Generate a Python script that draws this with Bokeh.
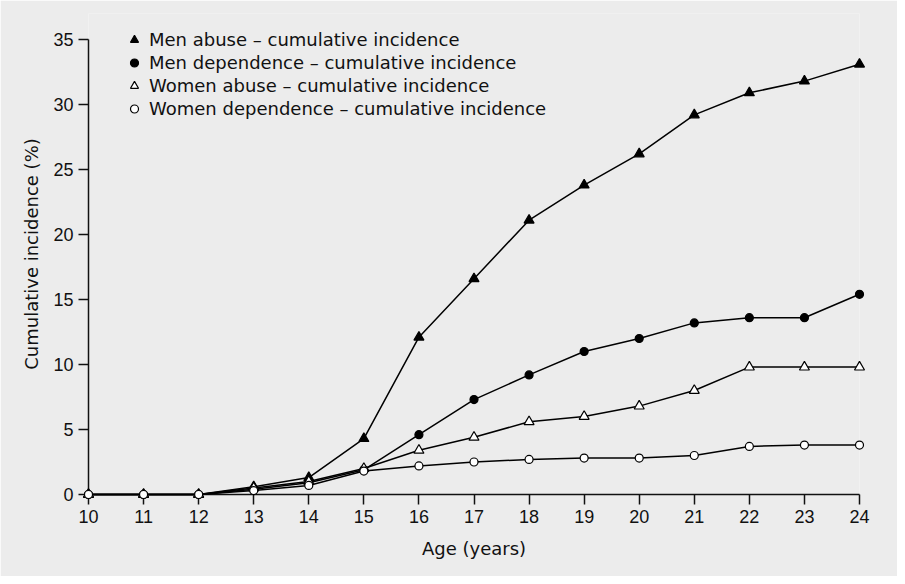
from bokeh.plotting import figure
from bokeh.models import Range1d, FixedTicker, Legend, LegendItem
from bokeh.embed import file_html
from bokeh.resources import INLINE

ages = [10, 11, 12, 13, 14, 15, 16, 17, 18, 19, 20, 21, 22, 23, 24]
men_abuse = [0, 0, 0, 0.6, 1.3, 4.3, 12.1, 16.6, 21.1, 23.8, 26.2, 29.2, 30.9, 31.8, 33.1]
men_dependence = [0, 0, 0, 0.4, 0.9, 1.9, 4.6, 7.3, 9.2, 11.0, 12.0, 13.2, 13.6, 13.6, 15.4]
women_abuse = [0, 0, 0, 0.5, 1.0, 2.0, 3.4, 4.4, 5.6, 6.0, 6.8, 8.0, 9.8, 9.8, 9.8]
women_dependence = [0, 0, 0, 0.3, 0.7, 1.8, 2.2, 2.5, 2.7, 2.8, 2.8, 3.0, 3.7, 3.8, 3.8]

x_ticks = list(range(10, 25))
y_ticks = [0, 5, 10, 15, 20, 25, 30, 35]

labels = [
    "Men abuse \u2013 cumulative incidence",
    "Men dependence \u2013 cumulative incidence",
    "Women abuse \u2013 cumulative incidence",
    "Women dependence \u2013 cumulative incidence",
]

BG = "#ececec"
TICK_FONT = "Liberation Sans"
TEXT_FONT = "DejaVu Sans"

# y range extends 2 units above the last tick so the legend (clipped to the frame) fits;
# the axis line itself is bounded to 0..35
p = figure(width=897, height=576, output_backend="svg", toolbar_location=None,
           x_range=Range1d(10, 24), y_range=Range1d(0, 37),
           min_border_left=88, min_border_right=38, min_border_top=13, min_border_bottom=82)
p.background_fill_color = BG
p.border_fill_color = BG
p.outline_line_color = None
p.grid.visible = False

for ax, ticks in ((p.xaxis[0], x_ticks), (p.yaxis[0], y_ticks)):
    ax.ticker = FixedTicker(ticks=ticks)
    ax.bounds = (ticks[0], ticks[-1])
    ax.minor_tick_line_color = None
    ax.major_tick_in = 0
    ax.major_tick_out = 10
    ax.major_tick_line_width = 1.5
    ax.axis_line_width = 1.5
    ax.major_tick_line_color = "#111111"
    ax.axis_line_color = "#111111"
    ax.major_label_text_font = TICK_FONT
    ax.major_label_text_font_size = "18px"
    ax.major_label_text_color = "#111111"
    ax.major_label_standoff = 5
    ax.axis_label_text_font = TEXT_FONT
    ax.axis_label_text_font_size = "18px"
    ax.axis_label_text_font_style = "normal"
    ax.axis_label_text_color = "#111111"
    ax.axis_label_standoff = 12

p.yaxis[0].axis_label_standoff = 8
p.xaxis.axis_label = "Age (years)"
p.yaxis.axis_label = "Cumulative incidence (%)"

series = [men_abuse, men_dependence, women_abuse, women_dependence]
markers = ["triangle", "circle", "triangle", "circle"]
fills = ["black", "black", "white", "white"]
sizes = [10, 8, 10, 8]

for ys in series:
    p.line(ages, ys, line_color="black", line_width=1.5, level="overlay")

items = []
for ys, mk, fc, sz, lab in zip(series, markers, fills, sizes, labels):
    r = p.scatter(ages, ys, marker=mk, size=sz, fill_color=fc, line_color="black",
                  line_width=1.2, level="overlay")
    items.append(LegendItem(label=lab, renderers=[r]))

legend = Legend(items=items, location=(36, 375))
legend.background_fill_alpha = 0
legend.border_line_alpha = 0
legend.padding = 0
legend.margin = 0
legend.spacing = 2
legend.glyph_width = 20
legend.glyph_height = 21
legend.label_height = 21
legend.label_standoff = 5
legend.label_text_font = TEXT_FONT
legend.label_text_font_size = "18px"
legend.label_text_color = "#111111"
p.add_layout(legend, "center")

open("out.html", "w").write(file_html(p, INLINE))
